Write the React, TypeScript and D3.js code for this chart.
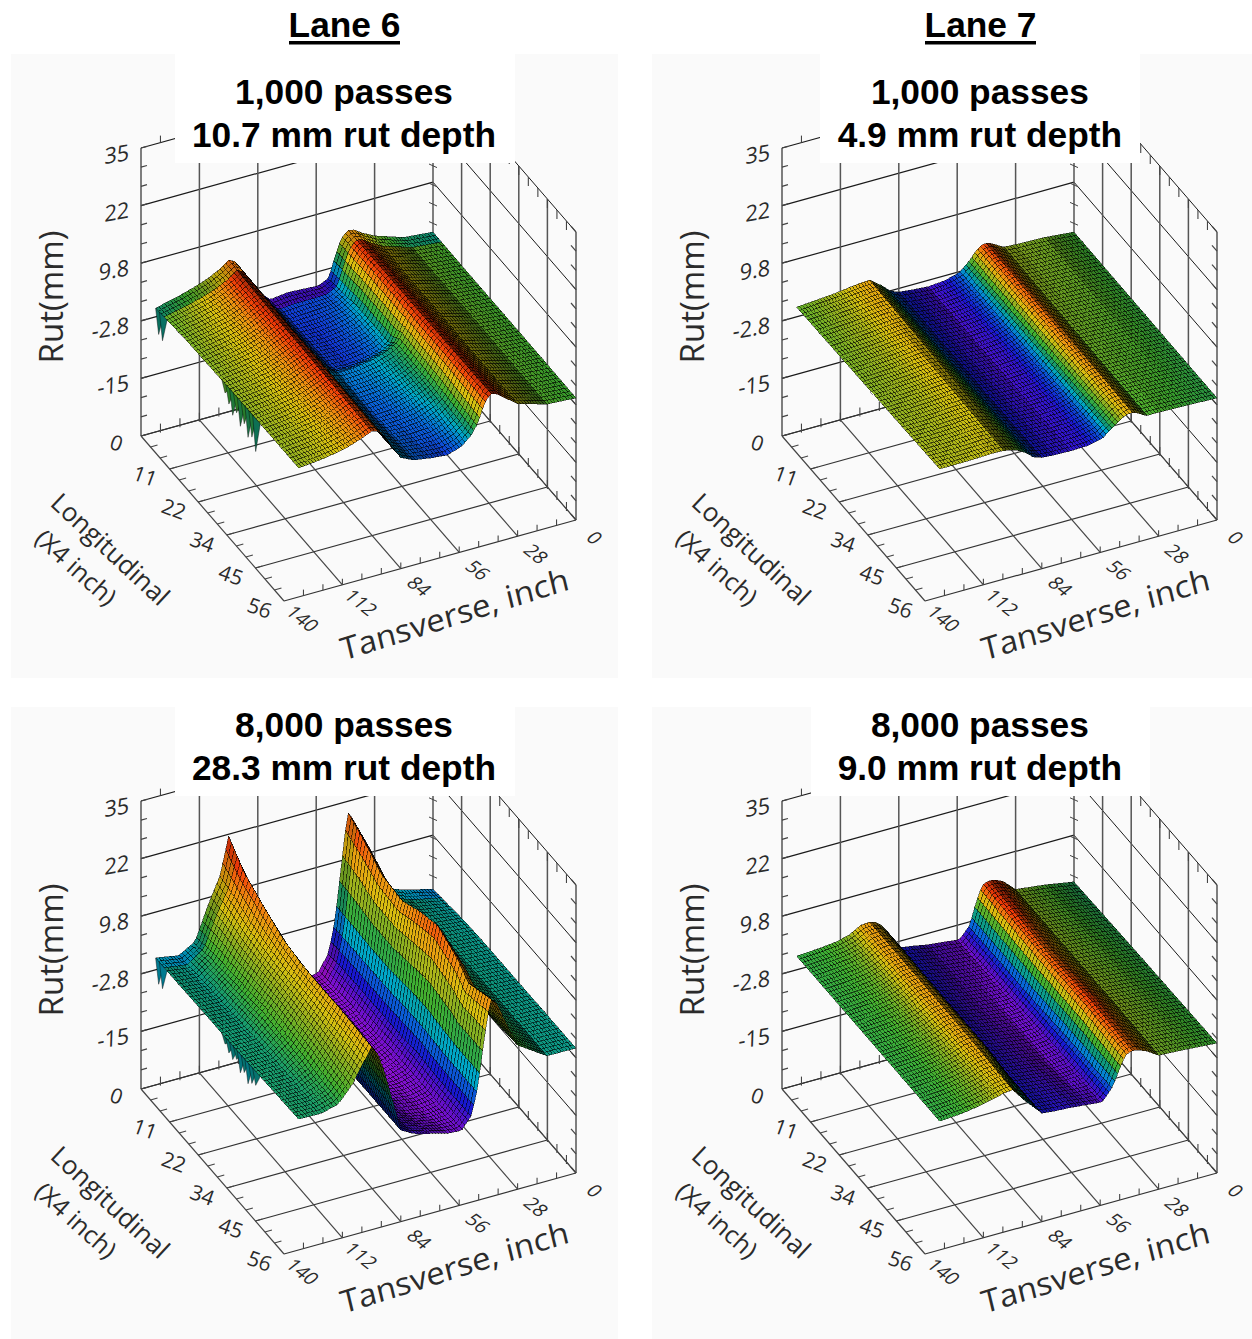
import React, { useRef, useEffect } from 'react';
import * as d3 from 'd3';

// TICK LABELS AND AXIS VALUES
const zLevels = [-28, -15.4, -2.8, 9.8, 22.4, 35];
const zLabels = ['', '-15', '-2.8', '9.8', '22', '35'];
const longLevels = [0, 11.2, 22.4, 33.6, 44.8, 56];
const longLabels = ['0', '11', '22', '34', '45', '56'];
const transLevels = [0, 28, 56, 84, 112, 140];
const transLabels = ['0', '28', '56', '84', '112', '140'];

// RUT (mm) AT THESE TRANSVERSE STATIONS, ONE ROW PER LONGITUDINAL STATION
const transverseStations = [0, 14, 28, 34, 38, 41, 44, 47, 50, 55, 62, 70, 78, 84, 88, 92, 95, 98, 102, 108, 114, 122, 133];

const lane6k1Long = [0, 12, 24, 27, 40, 56];
const lane6k1Rows = [
  [-1.1, -0.5, 1.6, 3, 4.2, 4.4, 3, -0.5, -4.8, -5.9, -5.7, -5.5, -6, -3.5, -0.5, 2.5, 4.5, 5.2, 3.8, 2.4, 1.4, 0.3, -0.9],
  [-1.2, -0.6, 1.2, 3, 4.3, 4.6, 3.2, 0, -3.4, -4.8, -5.6, -6.1, -6, -3.8, -0.8, 2.4, 4.2, 4.8, 3.8, 2.4, 1.5, 0.7, -0.2],
  [-1.2, -0.6, 1.2, 3, 4.3, 4.6, 3.2, 0, -3.4, -4.8, -5.6, -6, -5.8, -3.6, -0.8, 2.2, 4, 4.5, 3.6, 2.4, 1.5, 0.8, 0],
  [-1.2, -0.6, 1.2, 3, 4.3, 4.6, 3.2, 0.4, -1.5, -2.8, -3.8, -4.4, -4.6, -3.8, -1, 2.4, 4, 4.5, 3.6, 2.5, 1.6, 0.8, 0.1],
  [-1.2, -0.7, 1, 3, 4.3, 4.7, 3.2, 0.3, -2, -3.2, -4.4, -5.2, -5.4, -4, -1, 2.2, 3.8, 4.2, 3.4, 2.3, 1.5, 0.8, 0.2],
  [-1.3, -0.9, 1, 3, 4.4, 4.8, 3, -0.8, -3, -5, -6, -5.6, -5, -3.7, -1, 2, 3.5, 3.8, 3, 2, 1.3, 0.7, 0.2],
];

const lane7k1Long = [0, 28, 56];
const lane7k1Rows = [
  [-1.1, -0.5, -0.3, -0.1, 1, 1.7, 1.75, 0.8, -1, -3, -3.9, -4.2, -3.9, -3.6, -2.9, -1.2, -0.2, 0.8, 0.7, 0.4, 0, -0.3, -0.7],
  [-1.2, -0.8, -0.6, -0.5, 0.6, 1.3, 1.2, 0.3, -1.2, -3.1, -4, -4.2, -4, -3.7, -3, -1.4, -0.5, 0.3, 0.5, 0.3, 0, -0.2, -0.4],
  [-1.3, -1.1, -0.9, -0.9, 0.2, 0.7, 0.4, -0.4, -1.4, -3.2, -3.9, -4, -3.9, -3.7, -3.1, -1.6, -0.8, -0.3, 0.1, 0.2, 0.1, 0, 0],
];

const lane6k8Long = [0, 6, 13, 21, 28, 35, 43, 47, 56];
const lane6k8Rows = [
  [-2, -0.4, 2, 9, 18, 20, 8.5, -3, -9.5, -13.3, -14, -14, -13, -10, -2, 10, 18, 22, 14, 8, 1, -1.1, -0.2],
  [-1.5, -0.4, 2, 8, 16, 18, 8, -3, -9, -13, -13.5, -13.5, -12.5, -9, -2, 8, 15, 18, 13, 8, 2, -0.8, -0.2],
  [-1, -0.4, 2, 7, 13, 15, 7, -3, -9, -12.5, -13, -13.5, -12, -9, -2, 7, 13, 15.7, 11.5, 7, 2.5, -0.5, -0.1],
  [-0.8, -0.4, 2, 7, 12.5, 14.4, 7, -3, -9, -12.5, -13.5, -13.5, -12, -9, -2, 6, 11, 13.3, 10.5, 7, 3, -0.3, 0],
  [-0.8, -0.4, 2.5, 8, 14.5, 16.6, 8, -2.5, -9, -12, -13.5, -13.5, -12, -8, -1, 6, 10.5, 12.5, 10, 7, 3.5, 0, 0],
  [-0.8, -0.4, 3, 9, 16, 18, 9, -2.5, -8.5, -12, -13, -13, -11, -8, -1, 6, 10.5, 12.3, 10, 6.5, 3, 0.2, 0.1],
  [-0.7, -0.5, 3, 8, 14, 15.5, 8, -3, -9, -12, -12.5, -12, -11, -8, -1, 6, 10.5, 12.4, 9.5, 6, 2.5, 0.3, 0.3],
  [-0.7, -0.5, 3, 7.5, 12, 13, 7, -3, -9, -12, -12.5, -12, -10.5, -8, -1, 6, 10.5, 12.3, 9.5, 5.5, 2, 0.3, 0.4],
  [-0.7, -0.6, 3.5, 9.5, 14, 15.3, 7, -3, -9, -11.8, -11.5, -10.5, -9.5, -8, -1, 6, 10, 12, 9, 4.5, 1.5, 0.5, 0.6],
];

const lane7k8Long = [0, 22, 40, 56];
const lane7k8Rows = [
  [-0.4, 0.7, 1.5, 4, 4.8, 5, 4.4, 1, -3.6, -6.1, -5.7, -5.3, -4.6, -4.2, -0.9, 1.6, 2.8, 3.2, 3.1, 1.6, 0.9, 0.5, 0.2],
  [0, 0.9, 1.5, 3, 3.8, 4, 3.8, 0.6, -3.5, -6, -6, -5.6, -5, -4.4, -1.4, 1.4, 2.8, 3.2, 3, 1.8, 1, 0.5, 0.2],
  [0.2, 1, 1.6, 3.4, 4.3, 4.5, 3.8, 0.8, -3, -5.6, -6, -5.4, -4.9, -4.5, -1.4, 1.4, 2.8, 3.1, 2.8, 1.8, 1.1, 0.5, 0.2],
  [0.4, 0.9, 1.3, 3, 3.7, 3.9, 3.3, 0.4, -2.8, -5.5, -5.2, -4.8, -4.6, -4.3, -2.4, -0.6, 1, 2.6, 2.4, 1.7, 1.1, 0.5, 0.15],
];

// JAGGED DROP-OFFS ON THE LEFT EDGE OF THE LANE 6 SCANS
const spikeLong = [0, 1.5, 26, 27.5, 29, 30.5, 32, 33.5, 35, 36.5, 38];
const lane6k1SpikeDepth = [5, 5.5, 2, 3.5, 5, 3.5, 5.5, 4, 6, 5, 7.2];
const lane6k8SpikeDepth = [5, 5, 1.5, 2.5, 3, 2, 4, 3, 4.5, 3.5, 3];

// COLOUR RAMP
const rampStops = [0, 0.1, 0.18, 0.28, 0.36, 0.42, 0.52, 0.62, 0.7, 0.8, 0.9, 1];
const rampColors = ['#a010d8', '#5a10c8', '#1818d0', '#0868d8', '#00a8c8', '#109878', '#40b030', '#90b020', '#d8c010', '#f09010', '#f03808', '#702008'];

const panels = [
  { passes: '1,000 passes', depth: '10.7 mm rut depth', dx: 0, dy: 0, bg: [11, 54, 607, 624], box: [175, 54, 340, 109], long: lane6k1Long, rows: lane6k1Rows, colorZ: [-9.5, -1.2, 5.5], spikes: lane6k1SpikeDepth, rimDrop: 1.8 },
  { passes: '1,000 passes', depth: '4.9 mm rut depth', dx: 641, dy: 0, bg: [652, 54, 600, 624], box: [820, 54, 320, 109], long: lane7k1Long, rows: lane7k1Rows, colorZ: [-5.2, -1, 2.6], spikes: null, rimDrop: 0 },
  { passes: '8,000 passes', depth: '28.3 mm rut depth', dx: 0, dy: 653, bg: [11, 707, 607, 632], box: [175, 707, 340, 89], long: lane6k8Long, rows: lane6k8Rows, colorZ: [-14, 3, 22], spikes: lane6k8SpikeDepth, rimDrop: 2 },
  { passes: '8,000 passes', depth: '9.0 mm rut depth', dx: 641, dy: 653, bg: [652, 707, 600, 632], box: [811, 707, 339, 89], long: lane7k8Long, rows: lane7k8Rows, colorZ: [-7, 0.6, 5.5], spikes: null, rimDrop: 0 },
];

const uiFont = '"Open Sans", sans-serif';
const titleFont = '"Liberation Sans", Arial, sans-serif';

// OBLIQUE PROJECTION OF THE BOX, ORIGIN AT THE BACK FLOOR CORNER
const originX = 433,
  originY = 355;
const transX = d3.scaleLinear().domain([0, 140]).range([0, -292]);
const transY = d3.scaleLinear().domain([0, 140]).range([0, 81]);
const longX = d3.scaleLinear().domain([0, 56]).range([0, 143]);
const longY = d3.scaleLinear().domain([0, 56]).range([0, 165]);
const zY = d3.scaleLinear().domain([-28, 35]).range([0, -288]);

const project = (t: number, l: number, z: number): [number, number] => [
  originX + transX(t) + longX(l),
  originY + transY(t) + longY(l) + zY(z),
];

const line = d3.line();
const zFloor = -28,
  zTop = 35;

const drawFrame = (g: any) => {
  const seg = (a: [number, number], b: [number, number], color: string, w: number) =>
    g.append('path').attr('d', line([a, b])).attr('stroke', color).attr('stroke-width', w).attr('fill', 'none');

  // WALL GRID
  zLevels.forEach((z) => {
    seg(project(140, 0, z), project(0, 0, z), '#1a1a1a', 1.2);
    seg(project(0, 0, z), project(0, 56, z), '#1a1a1a', 1);
  });
  transLevels.forEach((t) => seg(project(t, 0, zFloor), project(t, 0, zTop), '#555', 1.5));
  longLevels.slice(1).forEach((l) => seg(project(0, l, zFloor), project(0, l, zTop), '#555', 1.5));

  // FLOOR GRID
  longLevels.forEach((l) => seg(project(140, l, zFloor), project(0, l, zFloor), '#333', 1.2));
  transLevels.forEach((t) => seg(project(t, 0, zFloor), project(t, 56, zFloor), '#444', 1.2));

  // MINOR AND MAJOR TICKS
  d3.range(0, 16).forEach((i) => {
    const z = -28 + (63 * i) / 15;
    const [ax, ay] = project(140, 0, z);
    seg([ax, ay], [ax + 6, ay - 1.7], '#444', 1.2);
    const [dx, dy] = project(0, 0, z);
    seg([dx - 4, dy + 1], [dx + 4, dy + 4.6], '#444', 1);
    const [cx, cy] = project(0, 56, z);
    seg([cx, cy], [cx - 5, cy - 5.8], '#444', 1.2);
  });
  d3.range(1, 15).forEach((i) => {
    const t = (140 * i) / 15;
    const [bx, by] = project(t, 0, zFloor);
    seg([bx, by + 2], [bx, by - 7], '#444', 1.1);
    const [tx, ty] = project(t, 0, zTop);
    seg([tx, ty], [tx, ty - 7], '#444', 1.1);
    const [fx, fy] = project(t, 56, zFloor);
    seg([fx, fy], [fx, fy - 6], '#444', 1.1);
  });
  d3.range(1, 15).forEach((i) => {
    const l = (56 * i) / 15;
    const [lx, ly] = project(140, l, zFloor);
    seg([lx, ly], [lx + 7, ly - 2], '#444', 1.1);
    const [rx, ry] = project(0, l, zFloor);
    seg([rx, ry + 2], [rx, ry - 7], '#444', 1.1);
    const [ux, uy] = project(0, l, zTop);
    seg([ux, uy], [ux, uy + 9], '#444', 1.1);
  });
};

const drawSurface = (g: any, panel: any) => {
  const ramp = d3.scaleLinear<string>().domain(rampStops).range(rampColors).clamp(true);
  const norm = d3.scaleLinear().domain(panel.colorZ).range([0, 0.52, 1]).clamp(true);
  const colorOf = (z: number) => ramp(norm(z));
  const span = panel.colorZ[2] - panel.colorZ[0];

  // MESH THE SCAN AT THE DRAWING RESOLUTION
  const meshT = d3.range(0, 133.01, 1.4);
  const meshL = d3.range(0, 56.01, 1.12);
  const rowScales = panel.rows.map((r: number[]) => d3.scaleLinear().domain(transverseStations).range(r));
  const grid = meshT.map((t) => {
    const column = d3.scaleLinear().domain(panel.long).range(rowScales.map((s: any) => s(t)));
    return meshL.map((l) => column(l));
  });

  const cells = [];
  // BACK TO FRONT: FAR ROWS FIRST, THEN TOWARD THE HIGH TRANSVERSE SIDE
  for (let j = 0; j < meshL.length - 1; j++) {
    for (let i = 0; i < meshT.length - 1; i++) {
      const a = project(meshT[i], meshL[j], grid[i][j]);
      const b = project(meshT[i + 1], meshL[j], grid[i + 1][j]);
      const c = project(meshT[i + 1], meshL[j + 1], grid[i + 1][j + 1]);
      const d = project(meshT[i], meshL[j + 1], grid[i][j + 1]);
      const mean = (grid[i][j] + grid[i + 1][j] + grid[i + 1][j + 1] + grid[i][j + 1]) / 4;
      const isRim = panel.rimDrop > 0 && meshL[j] < 2.8;
      // FACES TURNED AWAY FROM THE VIEWER ARE DARKER
      const rise = (grid[i + 1][j] + grid[i + 1][j + 1] - grid[i][j] - grid[i][j + 1]) / 2 / (meshT[i + 1] - meshT[i]);
      const shade = Math.min(1, Math.max(0, rise / (span * 0.012))) * 2.4;
      const fill = d3.color(colorOf(isRim ? mean - panel.rimDrop : mean)).darker(isRim ? 0.4 : shade).formatHex();
      cells.push({ p: [a, b, c, d], fill });
    }
  }

  g.append('g')
    .attr('shape-rendering', 'crispEdges')
    .selectAll('path')
    .data(cells)
    .enter()
    .append('path')
    .attr('d', (d: any) => line(d.p) + 'Z')
    .attr('fill', (d: any) => d.fill)
    .attr('stroke', '#000')
    .attr('stroke-opacity', 0.55)
    .attr('stroke-width', 0.8);

  // LEFT EDGE DROP-OFFS
  if (panel.spikes) {
    const edgeZ = d3.scaleLinear().domain(panel.long).range(rowScales.map((s: any) => s(133)));
    g.append('g')
      .selectAll('path')
      .data(spikeLong)
      .enter()
      .append('path')
      .attr('d', (l: number, i: number) => {
        const z = edgeZ(l);
        return line([project(133, l, z), project(133, l + 3, edgeZ(l + 3)), project(133, l + 1.2, z - panel.spikes[i])]) + 'Z';
      })
      .attr('fill', (l: number, i: number) => d3.color(colorOf(edgeZ(l) - panel.spikes[i] * 0.4)).darker(0.9).formatHex())
      .attr('stroke', '#000')
      .attr('stroke-opacity', 0.6)
      .attr('stroke-width', 0.7);
  }
};

const drawLabels = (g: any) => {
  const label = (x: number, y: number, text: string, size: number, transform: string, anchor = 'middle') =>
    g
      .append('text')
      .attr('transform', `translate(${x},${y}) ${transform}`)
      .attr('font-family', uiFont)
      .attr('font-size', size)
      .attr('fill', '#2b2b2b')
      .attr('text-anchor', anchor)
      .text(text);

  zLevels.forEach((z, i) => {
    if (!zLabels[i]) return;
    const [x, y] = project(140, 0, z);
    label(x - 12, y + 12, zLabels[i], 22, 'rotate(-10) skewX(-12)', 'end');
  });
  longLevels.forEach((l, i) => {
    const [x, y] = project(140, l, zFloor);
    label(x - 27, y + 14, longLabels[i], 21, 'rotate(20)');
  });
  transLevels.forEach((t, i) => {
    const [x, y] = project(t, 56, zFloor);
    label(x + 13, y + 22, transLabels[i], 19, 'rotate(38) skewX(-14)');
  });
  label(63, 297, 'Rut(mm)', 33, 'rotate(-90)');
  label(457, 625, 'Tansverse, inch', 31, 'rotate(-17.5) skewX(-4) scale(1.07,1)');
  label(104, 556, 'Longitudinal', 26, 'rotate(43)');
  label(70, 574, '(X4 inch)', 25, 'rotate(42)');
};

export default function App() {
  const root = useRef<SVGSVGElement>(null);

  useEffect(() => {
    const svg = d3.select(root.current);
    svg.selectAll('*').remove();

    // PANEL BACKGROUNDS UNDER EVERYTHING
    panels.forEach((panel) => {
      svg
        .append('rect')
        .attr('x', panel.bg[0])
        .attr('y', panel.bg[1])
        .attr('width', panel.bg[2])
        .attr('height', panel.bg[3])
        .attr('fill', '#fafafa');
    });

    panels.forEach((panel) => {
      const g = svg.append('g').attr('transform', `translate(${panel.dx},${panel.dy})`);
      drawFrame(g);
      drawSurface(g, panel);
      drawLabels(g);

      svg
        .append('rect')
        .attr('x', panel.box[0])
        .attr('y', panel.box[1])
        .attr('width', panel.box[2])
        .attr('height', panel.box[3])
        .attr('fill', '#fff');

      [panel.passes, panel.depth].forEach((text, i) => {
        svg
          .append('text')
          .attr('x', 344 + panel.dx * 0.992)
          .attr('y', 104 + (panel.dy ? 633 : 0) + i * 43)
          .attr('text-anchor', 'middle')
          .attr('font-family', titleFont)
          .attr('font-weight', 700)
          .attr('font-size', 35.3)
          .attr('fill', '#000')
          .text(text);
      });
    });

    ['Lane 6', 'Lane 7'].forEach((text, i) => {
      svg
        .append('text')
        .attr('x', 344.5 + i * 636)
        .attr('y', 37)
        .attr('text-anchor', 'middle')
        .attr('font-family', titleFont)
        .attr('font-weight', 700)
        .attr('font-size', 35.3)
        .attr('fill', '#000')
        .text(text);
      svg.append('rect').attr('x', 289 + i * 636).attr('y', 41).attr('width', 111).attr('height', 3.5).attr('fill', '#000');
    });
  }, []);

  return <svg ref={root} width={1252} height={1339} style={{ position: 'absolute', left: 0, top: 0 }} />;
}
